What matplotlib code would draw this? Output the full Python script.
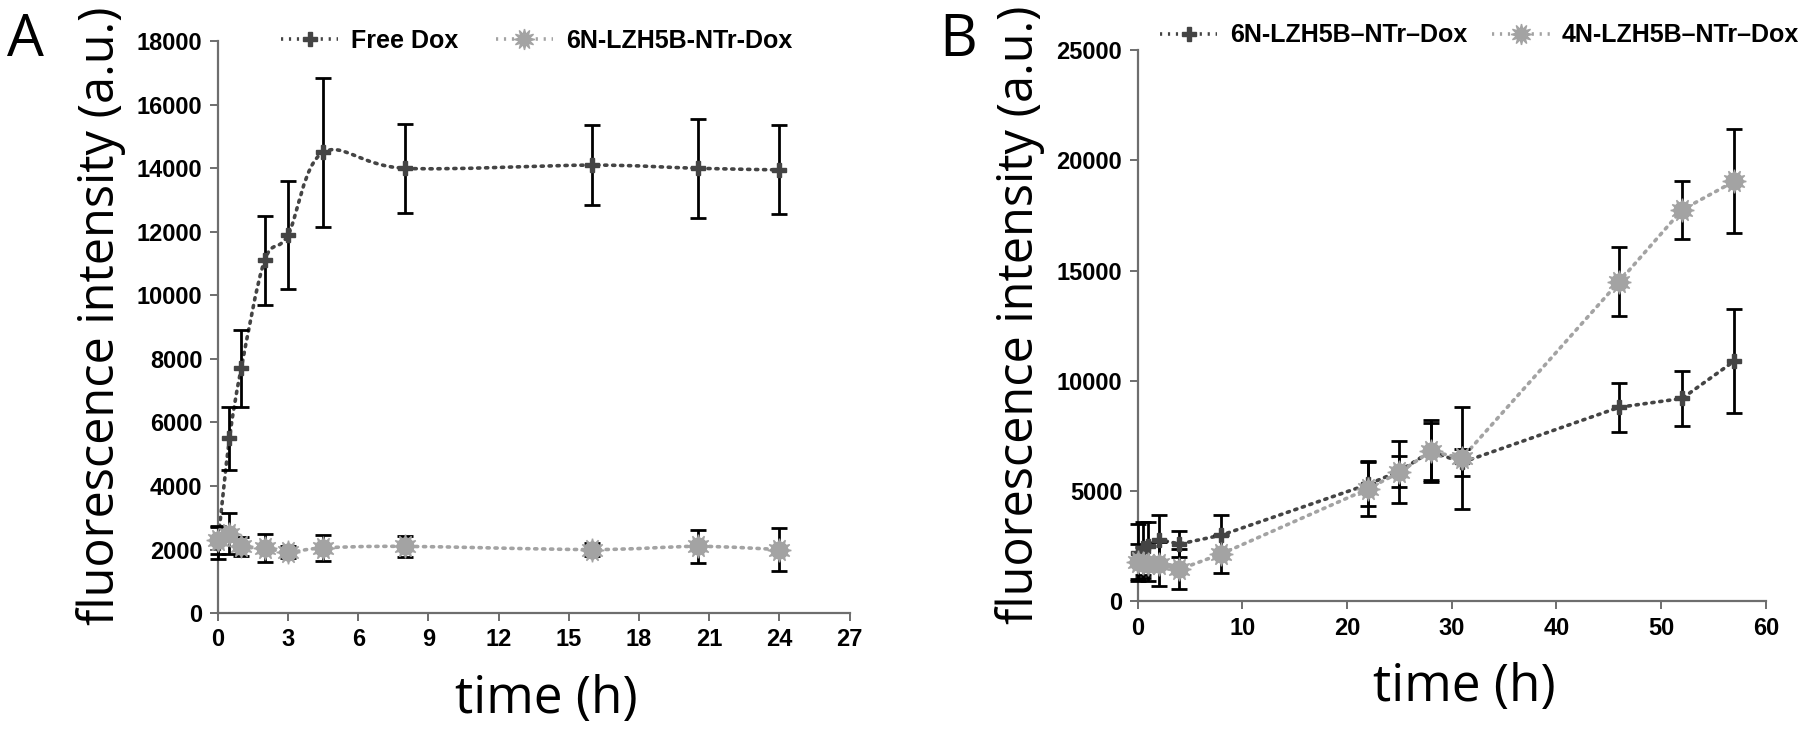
import numpy as np
import matplotlib
matplotlib.use('Agg')
import matplotlib.pyplot as plt
from matplotlib.path import Path
from matplotlib.patches import PathPatch

# Panel A data
time_a = [0, 0.5, 1, 2, 3, 4.5, 8, 16, 20.5, 24]
free_dox = [2200, 5500, 7700, 11100, 11900, 14500, 14000, 14100, 14000, 13950]
free_dox_err = [500, 1000, 1200, 1400, 1700, 2350, 1400, 1250, 1550, 1400]
n6_a = [2300, 2500, 2100, 2050, 1920, 2050, 2100, 2000, 2100, 2000]
n6_a_err = [450, 650, 300, 450, 200, 420, 330, 200, 520, 680]

# Panel B data
time_b = [0, 0.5, 1, 2, 4, 8, 22, 25, 28, 31, 46, 52, 57]
n6_b = [2200, 2400, 2500, 2800, 2600, 3000, 5300, 5900, 6800, 6300, 8800, 9200, 10900]
n6_b_err = [1300, 1200, 1100, 1100, 580, 900, 1000, 700, 1300, 600, 1100, 1250, 2350]
n4_b = [1800, 1750, 1700, 1700, 1450, 2150, 5100, 5850, 6800, 6500, 14500, 17750, 19050]
n4_b_err = [800, 700, 800, 1000, 900, 850, 1250, 1400, 1400, 2300, 1550, 1300, 2350]

dark = '#444444'
light = '#a3a3a3'
dots = (0, (0.6, 1.6))
tick_font = ['Liberation Sans', 'DejaVu Sans']
narrow_font = ['Liberation Sans Narrow', 'Liberation Sans', 'DejaVu Sans']
label_font = ['Open Sans', 'DejaVu Sans']


def smooth_path(x, y):
    # excel-like smoothed line (catmull-rom as cubic bezier)
    x = np.asarray(x, float)
    y = np.asarray(y, float)
    verts = [(x[0], y[0])]
    codes = [Path.MOVETO]
    n = len(x)
    for i in range(n - 1):
        x0, y0 = (x[i - 1], y[i - 1]) if i > 0 else (x[i], y[i])
        x3, y3 = (x[i + 2], y[i + 2]) if i + 2 < n else (x[i + 1], y[i + 1])
        c1 = (x[i] + (x[i + 1] - x0) / 6, y[i] + (y[i + 1] - y0) / 6)
        c2 = (x[i + 1] - (x3 - x[i]) / 6, y[i + 1] - (y3 - y[i]) / 6)
        verts += [c1, c2, (x[i + 1], y[i + 1])]
        codes += [Path.CURVE4] * 3
    return Path(verts, codes)


def draw_series(ax, x, y, err, color, kind, smooth=False):
    if smooth:
        ax.add_patch(PathPatch(smooth_path(x, y), fill=False, edgecolor=color,
                               lw=2.6, linestyle=dots, capstyle='round', zorder=2))
    else:
        ax.plot(x, y, color=color, lw=2.6, linestyle=dots,
                dash_capstyle='round', zorder=2)
    ax.errorbar(x, y, yerr=err, fmt='none', ecolor='black', elinewidth=2,
                capsize=6, capthick=2, zorder=3, clip_on=False)
    if kind == 'plus':
        ax.plot(x, y, 'P', color=color, ms=10, mec=color, zorder=4, clip_on=False)
    else:
        ax.plot(x, y, 'o', color=color, ms=12, mec=color, zorder=4, clip_on=False)
        ax.plot(x, y, marker=(12, 1, 0), ls='none', color=color, ms=17,
                mec=color, zorder=4, clip_on=False)


def style_axes(ax):
    for s in ['top', 'right']:
        ax.spines[s].set_visible(False)
    for s in ['left', 'bottom']:
        ax.spines[s].set_color('#6e6e6e')
        ax.spines[s].set_linewidth(1.6)
    ax.tick_params(direction='out', length=6, width=1.4, color='#6e6e6e',
                   labelsize=17, pad=5)
    for lab in ax.get_yticklabels():
        lab.set_family(tick_font)
        lab.set_fontweight('bold')
    for lab in ax.get_xticklabels():
        lab.set_family(narrow_font)
        lab.set_fontweight('bold')
    ax.set_xlabel('time (h)', fontsize=37, family=label_font, labelpad=16,
                  x=0.52)
    ax.set_ylabel('fluorescence intensity (a.u.)', fontsize=35,
                  family=label_font, labelpad=8, y=0.52)


fig = plt.figure(figsize=(18, 7.36), dpi=100)
ax_a = fig.add_axes([0.121, 0.167, 0.351, 0.777])
ax_b = fig.add_axes([0.632, 0.183, 0.349, 0.749])

# Panel A
draw_series(ax_a, time_a, free_dox, free_dox_err, dark, 'plus', smooth=True)
draw_series(ax_a, time_a, n6_a, n6_a_err, light, 'blob', smooth=True)
ax_a.set_xlim(0, 27)
ax_a.set_ylim(0, 18000)
ax_a.set_xticks(np.arange(0, 28, 3))
ax_a.set_yticks(np.arange(0, 18001, 2000))
style_axes(ax_a)

# Panel B
draw_series(ax_b, time_b, n6_b, n6_b_err, dark, 'plus')
draw_series(ax_b, time_b, n4_b, n4_b_err, light, 'blob')
ax_b.set_xlim(0, 60)
ax_b.set_ylim(0, 25000)
ax_b.set_xticks(np.arange(0, 61, 10))
ax_b.set_yticks(np.arange(0, 25001, 5000))
style_axes(ax_b)


def legend_handles(kinds):
    hs = []
    for color, kind in kinds:
        if kind == 'plus':
            h, = ax_a.plot([], [], color=color, lw=2.6, ls=dots, marker='P',
                           ms=10)
        else:
            h, = ax_a.plot([], [], color=color, lw=2.6, ls=dots, marker=(12, 1, 0),
                           ms=15)
        hs.append(h)
    return hs


ha = legend_handles([(dark, 'plus'), (light, 'blob')])
fig.legend(ha, ['Free Dox', '6N-LZH5B-NTr-Dox'], loc='center',
           bbox_to_anchor=(0.298, 0.944), ncol=2, frameon=False,
           prop={'family': tick_font, 'weight': 'bold', 'size': 18},
           handlelength=2.3, columnspacing=1.5, handletextpad=0.5)
hb = legend_handles([(dark, 'plus'), (light, 'blob')])
fig.legend(hb, ['6N-LZH5B\u2013NTr\u2013Dox', '4N-LZH5B\u2013NTr\u2013Dox'],
           loc='center', bbox_to_anchor=(0.822, 0.952), ncol=2, frameon=False,
           prop={'family': narrow_font, 'weight': 'bold', 'size': 18},
           handlelength=2.3, columnspacing=1.0, handletextpad=0.5)

fig.text(0.004, 0.945, 'A', fontsize=42, family=label_font, va='center')
fig.text(0.522, 0.945, 'B', fontsize=42, family=label_font, va='center')

fig.savefig('out.png', dpi=100)
